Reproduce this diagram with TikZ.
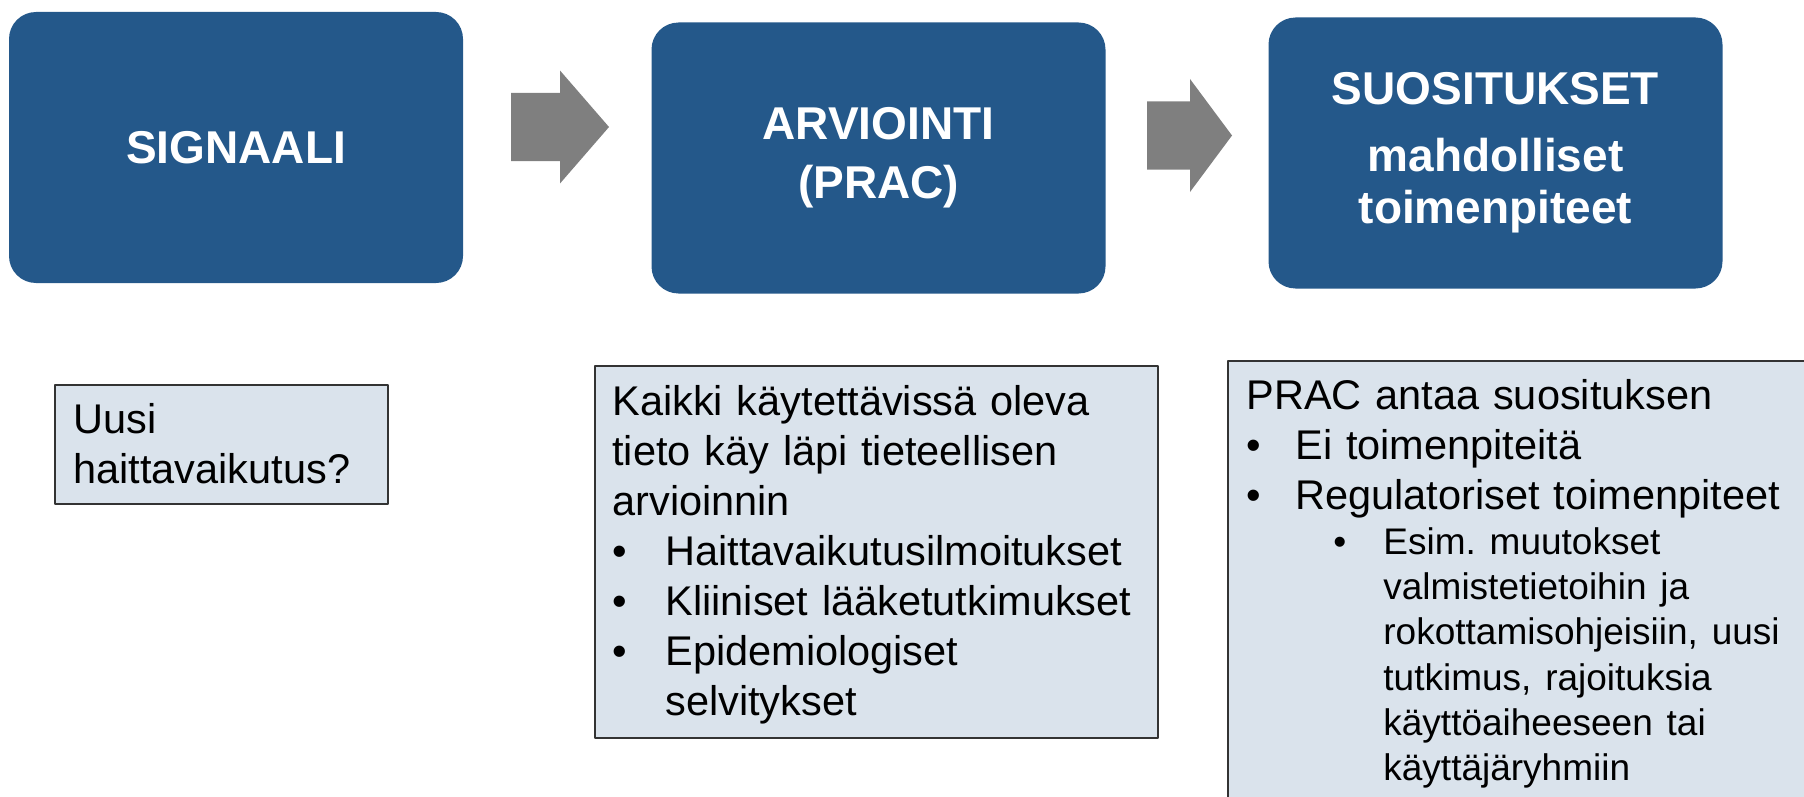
\documentclass[tikz,border=0pt]{standalone}
\usepackage{fontspec}
\setmainfont{Liberation Sans}
\usetikzlibrary{positioning}
\definecolor{boxblue}{RGB}{36,88,138}
\definecolor{arrowgray}{RGB}{127,127,127}
\definecolor{notefill}{RGB}{218,227,236}
\newcommand{\bul}[2][26.5pt]{\makebox[#1][l]{\textbullet}#2}
\newcommand{\subfont}{\fontsize{18.5}{22.65}\selectfont}
\begin{document}
\begin{tikzpicture}[x=0.5pt,y=-0.5pt,line cap=round,line join=round,
	stepbox/.style={fill=boxblue,rounded corners=13.5pt,minimum width=227pt,minimum height=135.5pt,
		text=white,font=\fontsize{23}{29.5}\selectfont\bfseries,align=center,inner sep=0pt},
	notebox/.style={draw=black!80,line width=1pt,fill=notefill,anchor=north west,inner sep=0pt},
	notetext/.style={anchor=base west,inner sep=0pt,align=left,text width=#1,font=\fontsize{20.75}{25}\selectfont},
	blockarrow/.style={fill=arrowgray}]
		\useasboundingbox (0,0) rectangle (1804,797);
		\clip (0,0) rectangle (1804,797);
		% top row
		\node[stepbox] (signal) at (236,147.5) {SIGNAALI};
		\node[stepbox] (assess) at (878.5,158) {ARVIOINTI\\(PRAC)};
		\node[stepbox,font=\fontsize{23}{26}\selectfont\bfseries] (advice) at (1495.5,153) {SUOSITUKSET\\[7.5pt]mahdolliset\\toimenpiteet};
		\foreach \xa/\xb/\xc/\ym in {511/560/609/127,1147/1190/1232/135.5}
			\fill[blockarrow] (\xa,\ym-34) -- (\xb,\ym-34) -- (\xb,\ym-56.5) -- (\xc,\ym) -- (\xb,\ym+56.5) -- (\xb,\ym+34) -- (\xa,\ym+34) -- cycle;
		% notes
		\node[notebox,minimum width=166.5pt,minimum height=59.5pt] (newbox) at (54,384) {};
		\node[notetext=160pt] (newtext) at (73,433) {Uusi\\haittavaikutus?};
		\node[notebox,minimum width=281.5pt,minimum height=186pt] (evalbox) at (594,365) {};
		\node[notetext=272pt] (evaltext) at (612,415) {Kaikki käytettävissä oleva\\tieto käy läpi tieteellisen\\arvioinnin\\
			\bul{Haittavaikutusilmoitukset}\\\bul{Kliiniset lääketutkimukset}\\\bul{Epidemiologiset}\\\hspace*{26.5pt}selvitykset};
		\node[notebox,minimum width=300pt,minimum height=225pt] (advbox) at (1227,360) {};
		\node[notetext=280pt] (advtext) at (1246,409) {PRAC antaa suosituksen\par
			\bul[24.5pt]{Ei toimenpiteitä}\par
			\bul[24.5pt]{Regulatoriset toimenpiteet}\par
			{\subfont\hspace*{43.5pt}\bul[25pt]{Esim.\ muutokset}\par
			\hspace*{68.5pt}valmistetietoihin ja\par
			\hspace*{68.5pt}rokottamisohjeisiin, uusi\par
			\hspace*{68.5pt}tutkimus, rajoituksia\par
			\hspace*{68.5pt}käyttöaiheeseen tai\par
			\hspace*{68.5pt}käyttäjäryhmiin\par}};
	\end{tikzpicture}
\end{document}
